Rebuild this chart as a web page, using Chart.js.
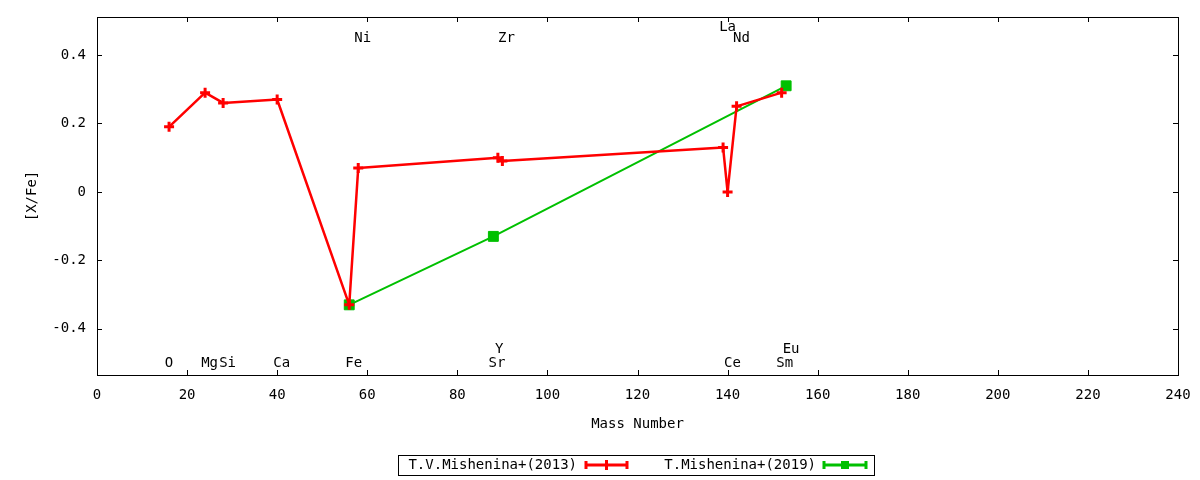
<!DOCTYPE html>
<html>
<head>
<meta charset="utf-8">
<script src="https://cdn.jsdelivr.net/npm/chart.js@4.4.1/dist/chart.umd.min.js"></script>
<style>
  html, body { margin: 0; padding: 0; background: #fff; }
  #wrap { width: 1200px; height: 480px; }
</style>
</head>
<body>
<div id="wrap"><canvas id="abund"></canvas></div>
<script>
// abundance pattern [X/Fe] vs mass number
var massRed = [16, 24, 28, 40, 56, 58, 89, 90, 139, 140, 142, 152];
var xfeRed = [0.19, 0.29, 0.26, 0.27, -0.33, 0.07, 0.10, 0.09, 0.13, 0.00, 0.25, 0.29];
var massGreen = [56, 88, 153];
var xfeGreen = [-0.33, -0.13, 0.31];
var seriesNames = ['T.V.Mishenina+(2013)', 'T.Mishenina+(2019)'];

var xTicks = [0, 20, 40, 60, 80, 100, 120, 140, 160, 180, 200, 220, 240];
var yTicks = [-0.4, -0.2, 0, 0.2, 0.4];

var elemNames = ['O', 'Mg', 'Si', 'Ca', 'Fe', 'Ni', 'Sr', 'Y', 'Zr', 'La', 'Ce', 'Nd', 'Sm', 'Eu'];
var elemLabelX = [16, 25, 29, 41, 57, 59, 88.8, 89.3, 90.9, 140, 141.1, 143.1, 152.7, 154.1];
var elemLabelY = [-0.50, -0.50, -0.50, -0.50, -0.50, 0.45, -0.50, -0.46, 0.45, 0.48, -0.50, 0.45, -0.50, -0.46];

var FONT = '"DejaVu Sans Mono", monospace';

function toPoints(xs, ys) {
    var pts = [];
    for (var i = 0; i < xs.length; i++) {
        pts.push({x: xs[i], y: ys[i]});
    }
    return pts;
}

// frame, inside ticks, element labels, axis titles and the boxed legend
var gnuplotLook = {
    id: 'gnuplotLook',
    afterDraw: function(chart) {
        var ctx = chart.ctx;
        var a = chart.chartArea;
        var xs = chart.scales.x;
        var ys = chart.scales.y;
        ctx.save();
        ctx.strokeStyle = '#000';
        ctx.lineWidth = 1;
        ctx.strokeRect(a.left + 0.5, a.top + 0.5, a.right - a.left, a.bottom - a.top);

        ctx.beginPath();
        xTicks.forEach(function(v) {
            var px = Math.round(xs.getPixelForValue(v)) + 0.5;
            ctx.moveTo(px, a.bottom); ctx.lineTo(px, a.bottom - 5);
            ctx.moveTo(px, a.top); ctx.lineTo(px, a.top + 5);
        });
        yTicks.forEach(function(v) {
            var py = Math.round(ys.getPixelForValue(v)) + 0.5;
            ctx.moveTo(a.left, py); ctx.lineTo(a.left + 5, py);
            ctx.moveTo(a.right, py); ctx.lineTo(a.right - 5, py);
        });
        ctx.stroke();

        ctx.fillStyle = '#000';
        ctx.font = '14px ' + FONT;
        ctx.textAlign = 'center';
        ctx.textBaseline = 'middle';
        for (var i = 0; i < elemNames.length; i++) {
            ctx.fillText(elemNames[i], xs.getPixelForValue(elemLabelX[i]), ys.getPixelForValue(elemLabelY[i]));
        }

        ctx.fillText('Mass Number', (a.left + a.right) / 2, 424);
        ctx.save();
        ctx.translate(32, (a.top + a.bottom) / 2);
        ctx.rotate(-Math.PI / 2);
        ctx.fillText('[X/Fe]', 0, 0);
        ctx.restore();

        // legend box
        ctx.strokeRect(398.5, 455.5, 476, 20);
        var ly = 465;
        var entries = [
            {textRight: 577, s0: 585, s1: 628},
            {textRight: 816, s0: 823, s1: 867}
        ];
        chart.data.datasets.forEach(function(ds, k) {
            var e = entries[k];
            ctx.fillStyle = '#000';
            ctx.textAlign = 'right';
            ctx.fillText(ds.label, e.textRight, ly);
            ctx.strokeStyle = ds.borderColor;
            ctx.fillStyle = ds.borderColor;
            ctx.lineWidth = 3;
            ctx.beginPath();
            ctx.moveTo(e.s0, ly); ctx.lineTo(e.s1, ly);
            ctx.moveTo(e.s0 + 1, ly - 4); ctx.lineTo(e.s0 + 1, ly + 4);
            ctx.moveTo(e.s1 - 1, ly - 4); ctx.lineTo(e.s1 - 1, ly + 4);
            ctx.stroke();
            var mx = (e.s0 + e.s1) / 2;
            if (ds.pointStyle === 'rect') {
                ctx.fillRect(mx - 4, ly - 4, 8, 8);
            } else {
                ctx.beginPath();
                ctx.moveTo(mx, ly - 5); ctx.lineTo(mx, ly + 5);
                ctx.stroke();
            }
        });
        ctx.restore();
    }
};

var chartCanvas = document.getElementById('abund');

var abundChart = new Chart(chartCanvas, {
    type: 'line',
    data: {
        datasets: [
        {
            label: seriesNames[0],
            data: toPoints(massRed, xfeRed),
            borderColor: '#ff0000',
            backgroundColor: '#ff0000',
            borderWidth: 2.5,
            borderJoinStyle: 'round',
            pointStyle: 'cross',
            pointRadius: 5,
            pointBorderWidth: 3,
            tension: 0
        },
        {
            label: seriesNames[1],
            data: toPoints(massGreen, xfeGreen),
            borderColor: '#00c000',
            backgroundColor: '#00c000',
            borderWidth: 2,
            borderJoinStyle: 'round',
            pointStyle: 'rect',
            pointRadius: 7,
            pointBorderWidth: 1,
            tension: 0
        }]
    },
    options: {
        responsive: true,
        maintainAspectRatio: false,
        animation: false,
        layout: {
            padding: {top: 17, right: 22, left: 0, bottom: 0}
        },
        plugins: {
            legend: { display: false },
            tooltip: { enabled: false }
        },
        scales: {
            x: {
                type: 'linear',
                min: 0,
                max: 240,
                afterBuildTicks: function(axis) {
                    axis.ticks = xTicks.map(function(v) { return {value: v}; });
                },
                afterFit: function(axis) { axis.height = 105; },
                grid: { display: false },
                border: { display: false },
                ticks: {
                    color: '#000',
                    padding: 4,
                    maxRotation: 0,
                    font: { family: FONT, size: 14 }
                }
            },
            y: {
                type: 'linear',
                min: -0.535,
                max: 0.511,
                afterBuildTicks: function(axis) {
                    axis.ticks = yTicks.map(function(v) { return {value: v}; });
                },
                afterFit: function(axis) { axis.width = 97; },
                grid: { display: false },
                border: { display: false },
                ticks: {
                    color: '#000',
                    padding: 3,
                    font: { family: FONT, size: 14 },
                    callback: function(v) {
                        return Math.abs(v) < 1e-9 ? '0' : String(Math.round(v * 10) / 10);
                    }
                }
            }
        }
    },
    plugins: [gnuplotLook]
});
</script>
</body>
</html>
